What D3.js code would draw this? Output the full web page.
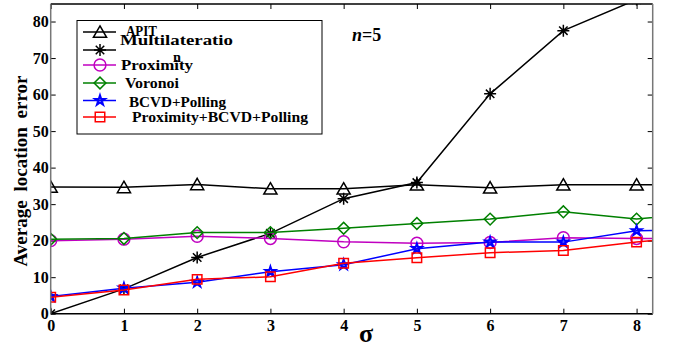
<!DOCTYPE html>
<html>
<head>
<meta charset="utf-8">
<script src="https://cdn.jsdelivr.net/npm/d3@7"></script>
<style>
  body { margin: 0; background: #fff; }
  svg { display: block; }
</style>
</head>
<body>
<script>
const width = 676;
const height = 348;

// sigma values (the 9th point lies past the right edge and gets clipped)
const sigma = [0, 1, 2, 3, 4, 5, 6, 7, 8, 9];
const apit = [34.7, 34.6, 35.4, 34.2, 34.2, 35.3, 34.5, 35.3, 35.3, 35.3];
const multilat = [0, 6.8, 15.4, 22.0, 31.5, 35.9, 60.2, 77.5, 86.0, 94.0];
const proximity = [20.0, 20.4, 21.2, 20.6, 19.7, 19.3, 19.5, 20.8, 20.6, 20.6];
const voronoi = [20.4, 20.6, 22.2, 22.2, 23.4, 24.7, 25.9, 27.9, 25.9, 27.9];
const bcvd = [4.7, 7.0, 8.6, 11.5, 13.4, 17.8, 19.6, 19.6, 22.7, 23.2];
const proxBcvd = [4.5, 6.5, 9.4, 10.1, 13.8, 15.3, 16.7, 17.3, 19.6, 21.6];

const xTicks = [0, 1, 2, 3, 4, 5, 6, 7, 8];
const yTicks = [0, 10, 20, 30, 40, 50, 60, 70, 80];

const series = [
  {name: 'APIT', values: apit, color: '#000', symbol: 'triangle'},
  {name: 'Multilateration', values: multilat, color: '#000', symbol: 'asterisk'},
  {name: 'Proximity', values: proximity, color: '#c000c0', symbol: 'circle'},
  {name: 'Voronoi', values: voronoi, color: '#008000', symbol: 'diamond'},
  {name: 'BCVD+Polling', values: bcvd, color: '#0000ff', symbol: 'star'},
  {name: 'Proximity+BCVD+Polling', values: proxBcvd, color: '#ff0000', symbol: 'square'}
];

const margin = {left: 50.7, right: 23.3, top: 4, bottom: 34.3};
const innerW = width - margin.left - margin.right;
const innerH = height - margin.top - margin.bottom;

const x = d3.scaleLinear().domain([0, 8.22]).range([0, innerW]);
const y = d3.scaleLinear().domain([0, 84.8]).range([innerH, 0]);

const svg = d3.select('body')
  .append('svg')
  .attr('width', width)
  .attr('height', height);

svg.append('defs')
  .append('clipPath')
  .attr('id', 'plot-clip')
  .append('rect')
  .attr('width', innerW)
  .attr('height', innerH);

const g = svg.append('g')
  .attr('transform', `translate(${margin.left},${margin.top})`);

const tickFont = '"Liberation Serif", serif';

// axes, ticks pointing inward on all sides
const styleAxis = (sel) => {
  sel.select('.domain').remove();
  sel.selectAll('line').attr('stroke', '#000').attr('stroke-width', 1);
  sel.selectAll('text')
    .attr('font-family', tickFont)
    .attr('font-weight', 'bold')
    .attr('font-size', 16)
    .attr('fill', '#000');
};

g.append('g')
  .attr('transform', `translate(0,${innerH})`)
  .call(d3.axisBottom(x).tickValues(xTicks).tickSize(-5).tickPadding(6).tickFormat(d3.format('d')))
  .call(styleAxis);

g.append('g')
  .call(d3.axisTop(x).tickValues(xTicks).tickSize(-5).tickFormat(''))
  .call(styleAxis);

g.append('g')
  .call(d3.axisLeft(y).tickValues(yTicks).tickSize(-5).tickPadding(2).tickFormat(d3.format('d')))
  .call(styleAxis);

g.append('g')
  .attr('transform', `translate(${innerW},0)`)
  .call(d3.axisRight(y).tickValues(yTicks).tickSize(-5).tickFormat(''))
  .call(styleAxis);

const symbolPath = (name) => {
  if (name === 'asterisk') {
    const r = 6;
    const d = r * Math.SQRT1_2;
    return `M${-r},0L${r},0M0,${-r}L0,${r}M${-d},${-d}L${d},${d}M${-d},${d}L${d},${-d}`;
  }
  if (name === 'triangle') return d3.symbol(d3.symbolTriangle, 75)();
  if (name === 'circle') return d3.symbol(d3.symbolCircle, 110)();
  if (name === 'diamond') return d3.symbol(d3.symbolSquare, 70)();
  if (name === 'star') return d3.symbol(d3.symbolStar, 30)();
  if (name === 'square') return d3.symbol(d3.symbolSquare, 90)();
};

const markerTransform = (s, px, py) =>
  `translate(${px},${py})` +
  (s.symbol === 'diamond' ? ' rotate(45)' : '') +
  (s.symbol === 'triangle' ? ' translate(0,1.5)' : '');

const line = d3.line()
  .x((d, i) => x(sigma[i]))
  .y(d => y(d));

const plot = g.append('g').attr('clip-path', 'url(#plot-clip)');

series.forEach(s => {
  plot.append('path')
    .datum(s.values)
    .attr('fill', 'none')
    .attr('stroke', s.color)
    .attr('stroke-width', 1.5)
    .attr('d', line);

  plot.selectAll(null)
    .data(s.values.filter((v, i) => sigma[i] <= 8))
    .join('path')
    .attr('transform', (d, i) => markerTransform(s, x(sigma[i]), y(d)))
    .attr('d', symbolPath(s.symbol))
    .attr('fill', 'none')
    .attr('stroke', s.color)
    .attr('stroke-width', s.symbol === 'star' ? 2 : 1.5);
});

// frame: black top/bottom, grey sides
g.append('line')
  .attr('x1', 0).attr('x2', innerW).attr('y1', 0).attr('y2', 0)
  .attr('stroke', '#000').attr('stroke-width', 1.5);
g.append('line')
  .attr('x1', 0).attr('x2', innerW).attr('y1', innerH).attr('y2', innerH)
  .attr('stroke', '#000').attr('stroke-width', 1.5);
g.append('line')
  .attr('x1', 0).attr('x2', 0).attr('y1', 0).attr('y2', innerH)
  .attr('stroke', '#777').attr('stroke-width', 1.5);
g.append('line')
  .attr('x1', innerW).attr('x2', innerW).attr('y1', 0).attr('y2', innerH)
  .attr('stroke', '#777').attr('stroke-width', 1.5);

// legend
const legend = svg.append('g');
legend.append('rect')
  .attr('x', 77).attr('y', 20.5)
  .attr('width', 245).attr('height', 113.5)
  .attr('fill', '#fff')
  .attr('stroke', '#000')
  .attr('stroke-width', 1);

const legendRows = [32, 50, 65, 83, 100.5, 117];
const legendLabels = [
  [{t: 'APIT', x: 126, y: 36, w: 31}],
  [{t: 'Multilateratio', x: 120, y: 44.5, w: 113}, {t: 'n', x: 173, y: 62, w: 8}],
  [{t: 'Proximity', x: 121, y: 70, w: 72}],
  [{t: 'Voronoi', x: 125, y: 88, w: 54}],
  [{t: 'BCVD+Polling', x: 129, y: 106.5, w: 97}],
  [{t: 'Proximity+BCVD+Polling', x: 132, y: 122, w: 176}]
];

series.forEach((s, i) => {
  const ly = legendRows[i];
  legend.append('line')
    .attr('x1', 83).attr('x2', 116)
    .attr('y1', ly).attr('y2', ly)
    .attr('stroke', s.color)
    .attr('stroke-width', 1.5);
  legend.append('path')
    .attr('transform', markerTransform(s, 100, ly))
    .attr('d', symbolPath(s.symbol))
    .attr('fill', 'none')
    .attr('stroke', s.color)
    .attr('stroke-width', s.symbol === 'star' ? 2 : 1.5);
  legendLabels[i].forEach(l => {
    legend.append('text')
      .attr('x', l.x).attr('y', l.y)
      .attr('font-family', tickFont)
      .attr('font-weight', 'bold')
      .attr('font-size', 15)
      .attr('textLength', l.w)
      .attr('lengthAdjust', 'spacingAndGlyphs')
      .text(l.t);
  });
});

// annotation
svg.append('text')
  .attr('x', 352).attr('y', 41)
  .attr('font-family', tickFont)
  .attr('font-size', 18)
  .attr('font-weight', 'bold')
  .attr('font-style', 'italic')
  .text('n')
  .append('tspan')
  .attr('font-style', 'normal')
  .text('=5');

// axis titles
svg.append('text')
  .attr('x', 366).attr('y', 342)
  .attr('text-anchor', 'middle')
  .attr('font-family', tickFont)
  .attr('font-weight', 'bold')
  .attr('font-size', 26)
  .text('σ');

svg.append('text')
  .attr('transform', 'translate(27,171) rotate(-90)')
  .attr('text-anchor', 'middle')
  .attr('font-family', tickFont)
  .attr('font-weight', 'bold')
  .attr('font-size', 19)
  .attr('word-spacing', 4)
  .text('Average location error');
</script>
</body>
</html>
